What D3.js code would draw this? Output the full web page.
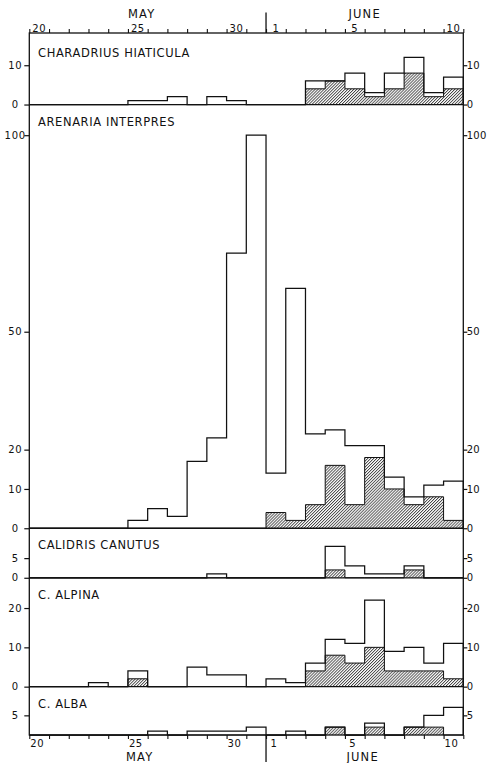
<!DOCTYPE html>
<html>
<head>
<meta charset="utf-8">
<script src="https://cdn.jsdelivr.net/npm/d3@7"></script>
<style>
    body { margin: 0; background: #fff; }
    svg text { font-family: "DejaVu Sans", sans-serif; fill: #111; }
</style>
</head>
<body>
<div id="chart"></div>
<script>
// days from May 20 to June 10, one bin per day
const days = [20, 21, 22, 23, 24, 25, 26, 27, 28, 29, 30, 31, 1, 2, 3, 4, 5, 6, 7, 8, 9, 10];
const labelledDays = [20, 25, 30, 1, 5, 10];
const months = ["MAY", "JUNE"];

const species = ["CHARADRIUS HIATICULA", "ARENARIA INTERPRES", "CALIDRIS CANUTUS", "C. ALPINA", "C. ALBA"];

// open bars = total, hatched bars = hatched part
const hiaticulaTotal   = [0, 0, 0, 0, 0, 1, 1, 2, 0, 2, 1, 0, 0, 0, 6, 6, 8, 3, 8, 12, 3, 7];
const hiaticulaHatched = [0, 0, 0, 0, 0, 0, 0, 0, 0, 0, 0, 0, 0, 0, 4, 6, 4, 2, 4, 8, 2, 4];

const interpresTotal   = [0, 0, 0, 0, 0, 2, 5, 3, 17, 23, 70, 100, 14, 61, 24, 25, 21, 21, 13, 8, 11, 12];
const interpresHatched = [0, 0, 0, 0, 0, 0, 0, 0, 0, 0, 0, 0, 4, 2, 6, 16, 6, 18, 10, 6, 8, 2];

const canutusTotal   = [0, 0, 0, 0, 0, 0, 0, 0, 0, 1, 0, 0, 0, 0, 0, 8, 3, 1, 1, 3, 0, 0];
const canutusHatched = [0, 0, 0, 0, 0, 0, 0, 0, 0, 0, 0, 0, 0, 0, 0, 2, 0, 0, 0, 2, 0, 0];

const alpinaTotal   = [0, 0, 0, 1, 0, 4, 0, 0, 5, 3, 3, 0, 2, 1, 6, 12, 11, 22, 9, 10, 6, 11];
const alpinaHatched = [0, 0, 0, 0, 0, 2, 0, 0, 0, 0, 0, 0, 0, 0, 4, 8, 6, 10, 4, 4, 4, 2];

const albaTotal   = [0, 0, 0, 0, 0, 0, 1, 0, 1, 1, 1, 2, 0, 1, 0, 2, 0, 3, 0, 2, 5, 7];
const albaHatched = [0, 0, 0, 0, 0, 0, 0, 0, 0, 0, 0, 0, 0, 0, 0, 2, 0, 2, 0, 2, 2, 0];

const yTicks = [[0, 10], [0, 10, 20, 50, 100], [0, 5], [0, 10, 20], [5]];

// vertical room of each panel, in counts (all panels share one scale)
const panelMax = [18.2, 107.8, 12.6, 27.7, 12.3];

const totals = [hiaticulaTotal, interpresTotal, canutusTotal, alpinaTotal, albaTotal];
const hatched = [hiaticulaHatched, interpresHatched, canutusHatched, alpinaHatched, albaHatched];

const W = 487, H = 763;
const plotLeft = 29.3, plotRight = 463.3, plotTop = 33, plotBottom = 735;
const ink = "#111";

const svg = d3.select("#chart").append("svg")
    .attr("width", W)
    .attr("height", H);

// hatch pattern
const pat = svg.append("defs").append("pattern")
    .attr("id", "hatch")
    .attr("patternUnits", "userSpaceOnUse")
    .attr("width", 2.1)
    .attr("height", 2.1)
    .attr("patternTransform", "rotate(45)");
pat.append("line")
    .attr("x1", 0.5).attr("y1", 0)
    .attr("x2", 0.5).attr("y2", 2.1)
    .attr("stroke", ink)
    .attr("stroke-width", 0.7);

const x = d3.scaleLinear()
    .domain([0, days.length])
    .range([plotLeft, plotRight]);

const k = (plotBottom - plotTop) / d3.sum(panelMax);

let cursor = plotTop;
const panels = species.map((name, i) => {
    let p = {name: name, total: totals[i], hatched: hatched[i], ticks: yTicks[i]};
    p.top = cursor;
    cursor += panelMax[i] * k;
    p.base = cursor;
    p.y = d3.scaleLinear().domain([0, panelMax[i]]).range([p.base, p.top]);
    return p;
});

function stepPoints(values) {
    let pts = [[0, 0]];
    values.forEach((v, i) => pts.push([i, v]));
    pts.push([values.length, 0]);
    return pts;
}

panels.forEach((p, pi) => {
    let g = svg.append("g").attr("class", "panel");

    let line = d3.line()
        .curve(d3.curveStepAfter)
        .x(d => x(d[0]))
        .y(d => p.y(d[1]));

    // hatched part
    if (d3.max(p.hatched) > 0) {
        let areaPts = p.hatched.map((v, i) => [i, v]);
        areaPts.push([p.hatched.length, p.hatched[p.hatched.length - 1]]);
        let area = d3.area()
            .curve(d3.curveStepAfter)
            .x(d => x(d[0]))
            .y0(p.y(0))
            .y1(d => p.y(d[1]));
        g.append("path")
            .attr("d", area(areaPts))
            .attr("fill", "url(#hatch)");
        g.append("path")
            .attr("d", line(stepPoints(p.hatched)))
            .attr("fill", "none")
            .attr("stroke", ink)
            .attr("stroke-width", 1);
    }

    // total outline
    g.append("path")
        .attr("d", line(stepPoints(p.total)))
        .attr("fill", "none")
        .attr("stroke", ink)
        .attr("stroke-width", 1.25);

    // zero line / panel separator
    if (pi < panels.length - 1) {
        g.append("line")
            .attr("x1", plotLeft).attr("x2", plotRight)
            .attr("y1", p.base).attr("y2", p.base)
            .attr("stroke", ink)
            .attr("stroke-width", 1.3);
    }

    // y axes both sides
    let yl = g.append("g")
        .attr("transform", "translate(" + plotLeft + ",0)")
        .call(d3.axisLeft(p.y).tickValues(p.ticks).tickSize(5).tickFormat(d3.format("d")));
    yl.select(".domain").remove();
    yl.selectAll(".tick line").attr("stroke", ink).attr("stroke-width", 1.2);
    yl.selectAll(".tick text")
        .attr("x", -14)
        .attr("text-anchor", "middle")
        .style("font-size", "10px")
        .style("letter-spacing", "0.8px");

    let yr = g.append("g")
        .attr("transform", "translate(" + plotRight + ",0)")
        .call(d3.axisRight(p.y).tickValues(p.ticks).tickSize(4).tickPadding(0).tickFormat(d3.format("d")));
    yr.select(".domain").remove();
    yr.selectAll(".tick line").attr("stroke", ink).attr("stroke-width", 1.2);
    yr.selectAll(".tick text")
        .attr("x", 3.5)
        .style("font-size", "10px")
        .style("letter-spacing", "0.2px");

    // species name
    g.append("text")
        .attr("x", 38)
        .attr("y", p.top + (pi === 0 ? 24 : 21))
        .style("font-size", "11.5px")
        .style("letter-spacing", "0.6px")
        .text(p.name);
});

// frame
svg.append("rect")
    .attr("x", plotLeft).attr("y", plotTop)
    .attr("width", plotRight - plotLeft).attr("height", plotBottom - plotTop)
    .attr("fill", "none")
    .attr("stroke", ink)
    .attr("stroke-width", 1.3);

// day ticks top and bottom
let xt = svg.append("g")
    .attr("transform", "translate(0," + plotTop + ")")
    .call(d3.axisTop(x).tickValues(d3.range(0, days.length + 1)).tickSize(4).tickFormat(""));
let xb = svg.append("g")
    .attr("transform", "translate(0," + plotBottom + ")")
    .call(d3.axisBottom(x).tickValues(d3.range(0, days.length + 1)).tickSize(4).tickFormat(""));
[xt, xb].forEach(a => {
    a.select(".domain").remove();
    a.selectAll(".tick line").attr("stroke", ink).attr("stroke-width", 1.1);
});

// day labels
labelledDays.forEach(d => {
    let i = days.indexOf(d);
    svg.append("text")
        .attr("x", x(i + 0.5))
        .attr("y", plotTop - 1.5)
        .attr("text-anchor", "middle")
        .style("font-size", "10px")
        .style("letter-spacing", "0.5px")
        .text(d);
    svg.append("text")
        .attr("x", x(i + 0.5) - 2)
        .attr("y", plotBottom + 11.5)
        .attr("text-anchor", "middle")
        .style("font-size", "10px")
        .style("letter-spacing", "0.5px")
        .text(d);
});

// month divider
const split = days.indexOf(1);
svg.append("line")
    .attr("x1", x(split)).attr("x2", x(split))
    .attr("y1", 12.5).attr("y2", plotTop)
    .attr("stroke", ink).attr("stroke-width", 1.3);
svg.append("line")
    .attr("x1", x(split)).attr("x2", x(split))
    .attr("y1", plotBottom).attr("y2", 762)
    .attr("stroke", ink).attr("stroke-width", 1.3);

// month names
const monthCenters = [x(5.7), x(17)];
months.forEach((m, i) => {
    svg.append("text")
        .attr("x", monthCenters[i])
        .attr("y", 17.5)
        .attr("text-anchor", "middle")
        .style("font-size", "11.5px")
        .style("letter-spacing", "1.2px")
        .text(m);
    svg.append("text")
        .attr("x", monthCenters[i] - 2)
        .attr("y", 761)
        .attr("text-anchor", "middle")
        .style("font-size", "11.5px")
        .style("letter-spacing", "1.2px")
        .text(m);
});
</script>
</body>
</html>
